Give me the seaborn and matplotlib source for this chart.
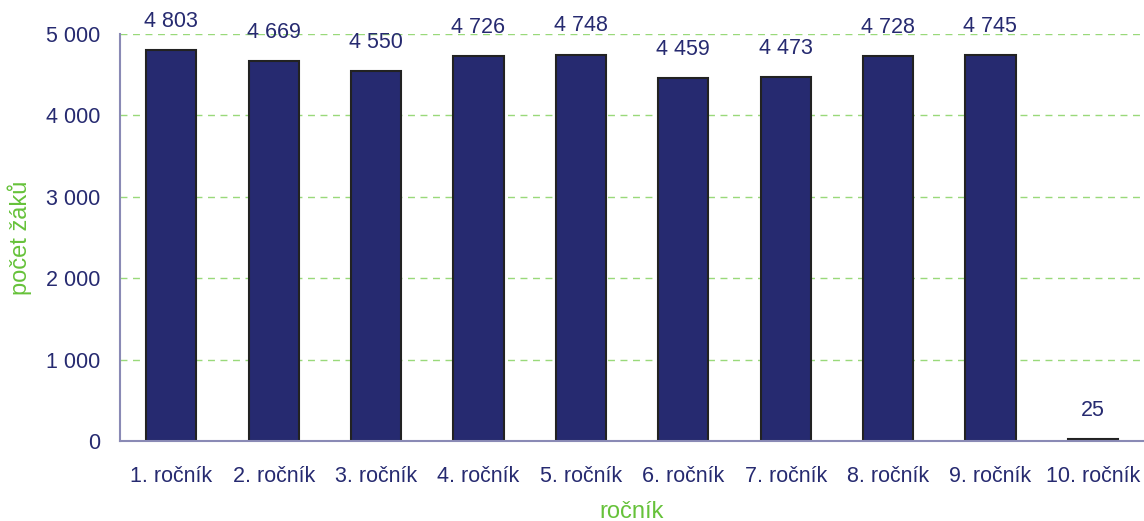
import matplotlib
matplotlib.use("Agg")
import matplotlib.pyplot as plt
import pandas as pd
import seaborn as sns

# data
rocniky = ["1. ročník", "2. ročník", "3. ročník", "4. ročník", "5. ročník",
           "6. ročník", "7. ročník", "8. ročník", "9. ročník", "10. ročník"]
pocty = [4803, 4669, 4550, 4726, 4748, 4459, 4473, 4728, 4745, 25]
y_ticks = [0, 1000, 2000, 3000, 4000, 5000]

NAVY = "#262A70"
GREEN = "#66C23A"
GRID = "#99D97A"
SPINE = "#8A8AB5"

sns.set_theme(style="white")
plt.rcParams["font.family"] = ["Liberation Sans", "DejaVu Sans"]

df = pd.DataFrame({"rocnik": rocniky, "pocet": pocty})

fig = plt.figure(figsize=(11.44, 5.21), dpi=100)
ax = fig.add_axes([0.105, 0.1536, 0.895, 0.7811])

sns.barplot(data=df, x="rocnik", y="pocet", ax=ax, color=NAVY,
            saturation=1, width=0.49, edgecolor="#222222", linewidth=1.5,
            zorder=3)

ax.set_ylim(0, 5000)
ax.set_xlim(-0.5, 9.5)
ax.set_yticks(y_ticks)
ax.set_yticklabels([f"{v:,}".replace(",", " ") for v in y_ticks])
ax.yaxis.grid(True, linestyle=(0, (5, 4)), color=GRID, linewidth=1, zorder=0)
ax.xaxis.grid(False)

for s in ["top", "right"]:
    ax.spines[s].set_visible(False)
for s in ["left", "bottom"]:
    ax.spines[s].set_color(SPINE)
    ax.spines[s].set_linewidth(1.5)
    ax.spines[s].set_zorder(4)

ax.tick_params(axis="both", length=0, labelsize=15.5, labelcolor=NAVY)
ax.tick_params(axis="x", pad=18)
ax.tick_params(axis="y", pad=14)

for cont in ax.containers:
    labels = [f"{v:,}".replace(",", " ") for v in pocty]
    ax.bar_label(cont, labels=labels, padding=13, fontsize=15.5, color=NAVY,
                 clip_on=False)

ax.set_xlabel("ročník", fontsize=17, color=GREEN, labelpad=10)
ax.set_ylabel("počet žáků", fontsize=17, color=GREEN, labelpad=10)

fig.savefig("out.png", dpi=100)
